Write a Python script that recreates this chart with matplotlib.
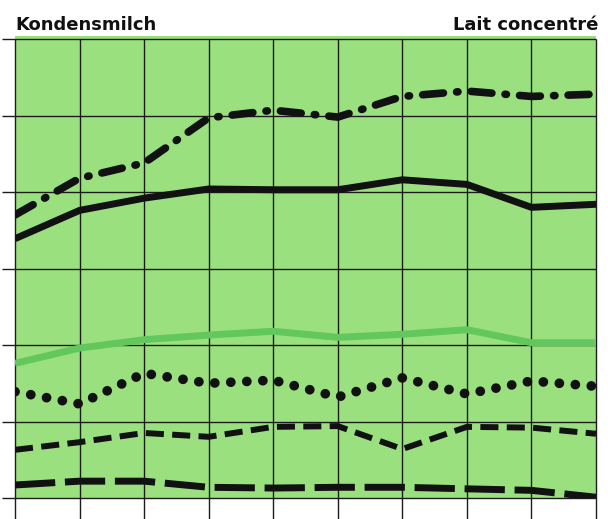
import matplotlib
matplotlib.use("Agg")
import matplotlib.pyplot as plt

plt.rcParams['lines.scale_dashes'] = False

# Data (grid units; x = index of vertical grid line)
x = list(range(10))
dashdot = [3.70, 4.18, 4.38, 4.97, 5.07, 4.98, 5.25, 5.32, 5.25, 5.28]
solid = [3.39, 3.76, 3.92, 4.04, 4.03, 4.03, 4.16, 4.10, 3.80, 3.84]
green = [1.76, 1.96, 2.07, 2.13, 2.18, 2.10, 2.14, 2.20, 2.03, 2.03]
dotted = [1.39, 1.23, 1.63, 1.50, 1.54, 1.32, 1.57, 1.36, 1.53, 1.46]
dashed = [0.63, 0.73, 0.85, 0.80, 0.93, 0.94, 0.64, 0.93, 0.92, 0.84]
longdash = [0.17, 0.22, 0.22, 0.14, 0.13, 0.14, 0.14, 0.12, 0.10, 0.01]
hgrid = [0, 1, 2, 3, 4, 5, 6]

W, H = 608, 519
fig = plt.figure(figsize=(W / 100, H / 100), dpi=100)
fig.patch.set_facecolor('white')
ax = fig.add_axes([15 / W, (H - 498) / H, (596 - 15) / W, (498 - 36) / H])
ax.set_facecolor('#9be07f')
ax.set_xlim(0, 9)
ax.set_ylim(0, 6.04)
for s in ax.spines.values():
    s.set_visible(False)
ax.set_xticks([])
ax.set_yticks([])

gc = '#1c1c1c'
ax.hlines(hgrid, -0.2, 9, colors=gc, lw=1.0, clip_on=False, zorder=1)
ax.vlines(x, -0.3, 6.0, colors=gc, lw=1.0, clip_on=False, zorder=1)

ax.plot(x, green, color='#62c75c', lw=5, solid_capstyle='butt', zorder=2)
ax.plot(x, solid, color='#111111', lw=5, solid_joinstyle='miter',
        solid_capstyle='butt', zorder=3)
l1, = ax.plot(x, dashdot, color='#111111', lw=5.5, dash_capstyle='round', zorder=3)
l1.set_dashes((15, 9.5, 1, 9.5))
l2, = ax.plot(x, dotted, color='#111111', lw=7, dash_capstyle='round', zorder=3)
l2.set_dashes((0.05, 11.5))
l3, = ax.plot(x, dashed, color='#111111', lw=4.3, dash_capstyle='butt', zorder=3)
l3.set_dashes((13, 6))
l4, = ax.plot(x, longdash, color='#111111', lw=5, dash_capstyle='butt', zorder=3)
l4.set_dashes((29, 7))

fig.text(15 / W, 1 - 30 / H, 'Kondensmilch', fontsize=13, fontweight='bold',
         ha='left', va='baseline', color='#111111')
fig.text(598 / W, 1 - 30 / H, 'Lait concentré', fontsize=13, fontweight='bold',
         ha='right', va='baseline', color='#111111')

fig.savefig('out.png', dpi=100, facecolor='white')
